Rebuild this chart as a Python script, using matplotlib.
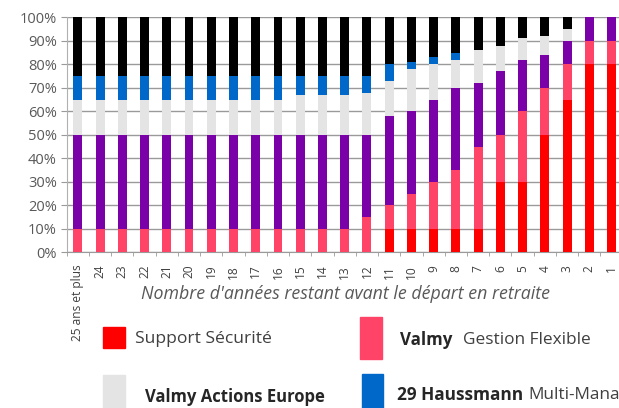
import matplotlib
matplotlib.use("Agg")
import matplotlib.pyplot as plt
from matplotlib.patches import Rectangle
from matplotlib.ticker import FixedLocator, PercentFormatter

plt.rcParams["font.family"] = ["Open Sans", "DejaVu Sans"]

## categories (years left before retirement)
categories = ["25 ans et plus", "24", "23", "22", "21", "20", "19", "18", "17",
              "16", "15", "14", "13", "12", "11", "10", "9", "8", "7", "6",
              "5", "4", "3", "2", "1"]

## allocation per fund, in % (bottom to top)
securite = [0, 0, 0, 0, 0, 0, 0, 0, 0, 0, 0, 0, 0,
            0, 10, 10, 10, 10, 10, 30, 30, 50, 65, 80, 80]
flexible = [10, 10, 10, 10, 10, 10, 10, 10, 10, 10, 10, 10, 10,
            15, 10, 15, 20, 25, 35, 20, 30, 20, 15, 10, 10]
patrimoine = [40, 40, 40, 40, 40, 40, 40, 40, 40, 40, 40, 40, 40,
              35, 38, 35, 35, 35, 27, 27, 22, 14, 10, 10, 10]
actions_europe = [15, 15, 15, 15, 15, 15, 15, 15, 15, 15, 17, 17, 17,
                  18, 15, 18, 15, 12, 14, 11, 9, 8, 5, 0, 0]
haussmann = [10, 10, 10, 10, 10, 10, 10, 10, 10, 10, 8, 8, 8,
             7, 7, 3, 3, 3, 0, 0, 0, 0, 0, 0, 0]
dynamique = [25, 25, 25, 25, 25, 25, 25, 25, 25, 25, 25, 25, 25,
             25, 20, 19, 17, 15, 14, 12, 9, 8, 5, 0, 0]

series = [securite, flexible, patrimoine, actions_europe, haussmann, dynamique]
colors = ["#ff0000", "#ff4468", "#7a00a8", "#e4e4e4", "#0068c8", "#000000"]

fig = plt.figure(figsize=(6.19, 4.08), dpi=100)
ax = fig.add_axes([66.7 / 619, 1 - 252.3 / 408, 556 / 619, 235 / 408])

x = list(range(len(categories)))
bottom = [0] * len(categories)
for vals, col in zip(series, colors):
    ax.bar(x, vals, bottom=bottom, width=0.4, color=col, zorder=3)
    bottom = [b + v for b, v in zip(bottom, vals)]

## axes look
ax.set_xlim(-0.5, len(categories) - 0.5)
ax.set_ylim(0, 100)
ax.set_yticks(range(0, 101, 10))
ax.yaxis.set_major_formatter(PercentFormatter(decimals=0))
ax.yaxis.grid(True, color="#9a9a9a", linewidth=1.0, zorder=0)
for s in ["top", "right"]:
    ax.spines[s].set_visible(False)
ax.spines["left"].set_color("#b0b0b0")
ax.spines["bottom"].set_color("#9a9a9a")
ax.tick_params(axis="y", length=4, color="#9a9a9a", labelsize=10.5,
               labelcolor="#595959", pad=3)

ax.set_xticks(x)
ax.set_xticklabels(categories, rotation=90, fontsize=8.6, color="#404040")
ax.tick_params(axis="x", which="major", length=0, pad=9)
ax.xaxis.set_minor_locator(FixedLocator([i + 0.5 for i in range(-1, len(categories))]))
ax.tick_params(axis="x", which="minor", length=3, color="#9a9a9a")

fig.text(345 / 619, 1 - 294 / 408,
         "Nombre d'années restant avant le départ en retraite",
         ha="center", va="center", style="italic", fontsize=12.8, color="#595959")

## legend, drawn by hand
def legend_box(x0, y0, x1, y1, col):
    fig.patches.append(Rectangle((x0 / 619, 1 - y1 / 408), (x1 - x0) / 619,
                                 (y1 - y0) / 408, color=col,
                                 transform=fig.transFigure, figure=fig))

legend_box(103, 327, 125, 348, colors[0])
legend_box(360, 317, 382, 359, colors[1])
legend_box(103, 375, 125, 412, colors[3])
legend_box(362, 374, 383, 412, colors[4])

fig.text(135 / 619, 1 - 339 / 408, "Support Sécurité", va="center",
         fontsize=12.6, color="#404040")
fig.text(400 / 619, 1 - 340 / 408, "Valmy", va="center", fontsize=12.2,
         fontweight="bold", color="#262626")
fig.text(463 / 619, 1 - 340 / 408, "Gestion Flexible", va="center",
         fontsize=12.4, color="#404040")
fig.text(145 / 619, 1 - 397 / 408, "Valmy Actions Europe", va="center",
         fontsize=12, fontweight="bold", color="#262626")
fig.text(397 / 619, 1 - 395 / 408, "29 Haussmann", va="center", fontsize=12.4,
         fontweight="bold", color="#262626")
fig.text(528 / 619, 1 - 395 / 408, "Multi-Mana", va="center",
         fontsize=12.4, color="#404040")

fig.savefig("out.png", dpi=100)
